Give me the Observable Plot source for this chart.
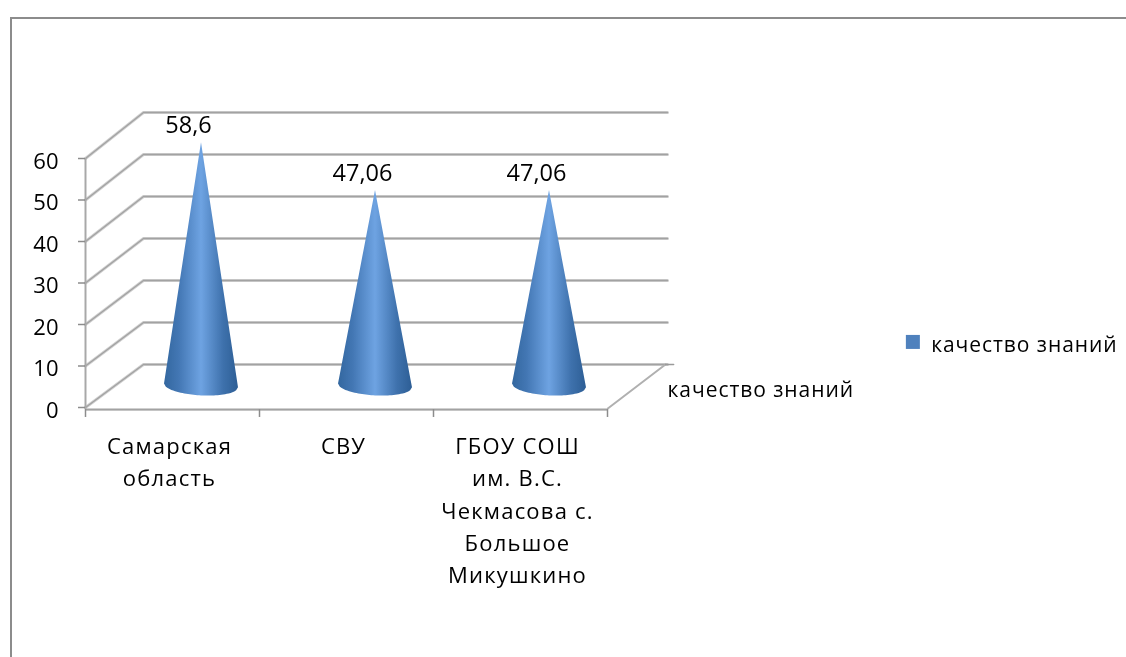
<!DOCTYPE html>
<html><head><meta charset="utf-8">
<script src="https://cdn.jsdelivr.net/npm/d3@7"></script>
<script src="https://cdn.jsdelivr.net/npm/@observablehq/plot@0.6"></script>
<style>
html,body{margin:0;padding:0;background:#fff;overflow:hidden}
#wrap{position:relative;width:1126px;height:657px;filter:blur(0.45px)}
#edge{position:absolute;left:10px;top:17px;right:0;bottom:0;border-left:2px solid #8c8c8c;border-top:2px solid #8c8c8c}
svg{position:absolute;left:0;top:0;background:transparent!important}
.cat text{letter-spacing:1.2px}
.ser text{letter-spacing:0.95px}
</style></head><body>
<div id="wrap"><div id="edge"></div></div>
<script>
const categories = ["Самарская\nобласть", "СВУ", "ГБОУ СОШ\nим. В.С.\nЧекмасова с.\nБольшое\nМикушкино"];
const values = [58.6, 47.06, 47.06];
const valueLabels = ["58,6", "47,06", "47,06"];
const yTicks = [0, 10, 20, 30, 40, 50, 60];
const xTicks = [0, 1, 2, 3];
const seriesName = "качество знаний";

const font = "'Open Sans', sans-serif";
const fs = 21;
const DU = 1 / 3;      // depth in x units
const backV = v => 10.36 + 1.012 * v;   // depth in y units
const END = 3.345;

const grid = yTicks.flatMap(v => [
  {v, u: 0, y: v},
  {v, u: DU, y: backV(v)},
  {v, u: END, y: backV(v)}
]);
const rightEdge = [{u: 3, y: -0.3}, {u: END - 0.012, y: backV(0)}];
const rightStub = [{u: END - 0.012, y: backV(0)}, {u: END + 0.035, y: backV(0)}];

const HW = 0.2126, RY = 2.4, TILT = 0.45, BASE = 5.2;
const cones = values.map((value, i) => {
  const cx = i + 0.5 + DU / 2;
  return d3.range(-1, 1.0001, 0.05).map(t => ({
    i, u: cx + HW * t,
    lo: BASE - TILT * t - RY * Math.sqrt(Math.max(0, 1 - t * t)),
    hi: BASE - TILT * t + (1 - Math.abs(t)) * value
  }));
});
const coneTops = values.map((value, i) => ({u: i + 0.5 + DU / 2, y: BASE + value, label: valueLabels[i]}));

const defs = () => d3.create("svg:defs").html(`
  <linearGradient id="cone" x1="0" x2="1" y1="0" y2="0">
    <stop offset="0" stop-color="#33679f"/>
    <stop offset="0.2" stop-color="#4377b4"/>
    <stop offset="0.5" stop-color="#6ea3e2"/>
    <stop offset="0.8" stop-color="#3e71ac"/>
    <stop offset="1" stop-color="#2d5e95"/>
  </linearGradient>`).node();

const chart = Plot.plot({
  width: 1126, height: 657,
  marginLeft: 85, marginRight: 519, marginTop: 158, marginBottom: 250,
  x: {domain: [0, 3]},
  y: {domain: [0, 60]},
  style: {fontFamily: font, background: "transparent", color: "#000"},
  marks: [
    defs,
    Plot.line(grid, {x: "u", y: "y", z: "v", stroke: "#d0d0d0", strokeWidth: 3, curve: "linear"}),
    Plot.line(grid, {x: "u", y: "y", z: "v", stroke: "#a2a2a2", strokeWidth: 1.3, curve: "linear"}),
    Plot.line(rightEdge, {x: "u", y: "y", stroke: "#b0b0b0", strokeWidth: 2}),
    Plot.line(rightStub, {x: "u", y: "y", stroke: "#9a9a9a", strokeWidth: 1.5}),
    Plot.ruleY([-0.5], {x1: 0, x2: 3, stroke: "#d0d0d0", strokeWidth: 3}),
    Plot.ruleY([-0.5], {x1: 0, x2: 3, stroke: "#a2a2a2", strokeWidth: 1.3}),
    Plot.ruleX([0], {y1: -0.5, y2: 60, stroke: "#a8a8a8", strokeWidth: 2}),
    Plot.ruleX(xTicks, {y1: -0.5, y2: -2.4, stroke: "#8c8c8c", strokeWidth: 1.5}),
    Plot.axisY({ticks: yTicks, tickSize: 7, tickPadding: 0, label: null, text: null, stroke: "#8c8c8c", strokeWidth: 1.5}),
    Plot.text(yTicks, {x: 0, y: d => d, text: d => String(d), dx: -27, dy: 3, textAnchor: "end", fontSize: 22, fill: "#000"}),
    Plot.axisX({ticks: [0.5, 1.5, 2.5], tickSize: 0, tickPadding: 24, label: null, fontSize: 22, lineHeight: 1.46, dx: -3, className: "cat",
      tickFormat: u => categories[Math.floor(u)]}),
    ...cones.map(c => Plot.areaY(c, {x: "u", y1: "lo", y2: "hi", fill: "url(#cone)"})),
    Plot.text(coneTops, {x: "u", y: "y", text: "label", dx: -13, dy: -17, fontSize: 23.5, fill: "#000"}),
    Plot.text([seriesName], {x: [END], y: [4.1], text: d => d, textAnchor: "start", fontSize: fs, fill: "#000", className: "ser"}),
    Plot.dot([seriesName], {x: [4.755], y: [15.8], symbol: "square", r: 7.9, fill: "#4f81bd", stroke: null}),
    Plot.text([seriesName], {x: [4.86], y: [14.9], text: d => d, textAnchor: "start", fontSize: fs, fill: "#000", className: "ser"})
  ]
});
document.getElementById("wrap").appendChild(chart);
</script>
</body></html>
